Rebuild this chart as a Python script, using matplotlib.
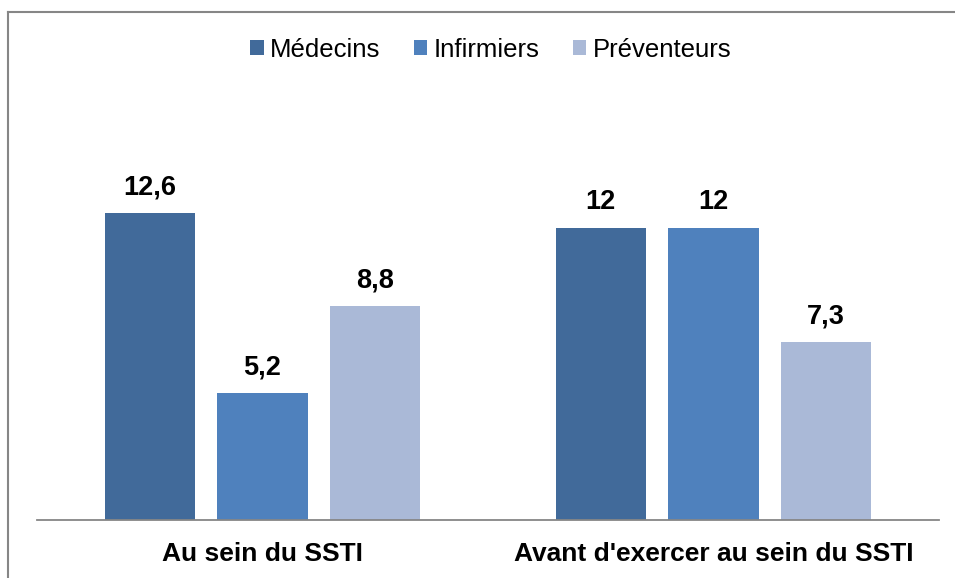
import matplotlib.pyplot as plt
from matplotlib.lines import Line2D
import numpy as np

plt.rcParams['font.family'] = ['Liberation Sans', 'DejaVu Sans']

categories = ['Au sein du SSTI', "Avant d'exercer au sein du SSTI"]
series_names = ['Médecins', 'Infirmiers', 'Préventeurs']
medecins = [12.6, 12]
infirmiers = [5.2, 12]
preventeurs = [8.8, 7.3]
value_labels = [['12,6', '12'], ['5,2', '12'], ['8,8', '7,3']]

colors = ['#416A9A', '#4F81BD', '#AAB9D7']

fig = plt.figure(figsize=(9.55, 5.78), dpi=100)
W, H = 955, 578
ax = fig.add_axes([37 / W, (H - 520) / H, (939 - 37) / W, (520 - 179) / H])

x = np.arange(len(categories))
width = 0.2
offset = 0.25
all_series = [medecins, infirmiers, preventeurs]
for i, (vals, name) in enumerate(zip(all_series, series_names)):
    rects = ax.bar(x + (i - 1) * offset, vals, width, color=colors[i], label=name, zorder=2)
    for rect, lab in zip(rects, value_labels[i]):
        ax.annotate(lab, xy=(rect.get_x() + rect.get_width() / 2, rect.get_height()),
                    xytext=(0, 9), textcoords='offset points',
                    ha='center', va='bottom', fontsize=19.5, fontweight='bold')

ax.set_xlim(-0.5, 1.5)
ax.set_ylim(0, 14)
ax.set_yticks([])
ax.set_xticks(x)
ax.set_xticklabels(categories, fontsize=19, fontweight='bold')
ax.tick_params(axis='x', length=0, pad=16)
for s in ['top', 'right', 'left']:
    ax.spines[s].set_visible(False)
ax.spines['bottom'].set_color('#868686')
ax.spines['bottom'].set_linewidth(1.3)

ax.legend(loc='center', bbox_to_anchor=(491 / W, (H - 50) / H), bbox_transform=fig.transFigure,
          ncol=3, frameon=False, fontsize=18.5, handlelength=0.52, handleheight=0.52,
          handletextpad=0.25, columnspacing=1.3, borderaxespad=0)

# chart border (top and left edges visible)
fig.add_artist(Line2D([7.5 / W, 1.0], [(H - 11.5) / H] * 2, transform=fig.transFigure,
                      color='#868686', linewidth=1.5))
fig.add_artist(Line2D([7.5 / W] * 2, [0, (H - 11.5) / H], transform=fig.transFigure,
                      color='#868686', linewidth=1.5))

fig.savefig('out.png', dpi=100)
